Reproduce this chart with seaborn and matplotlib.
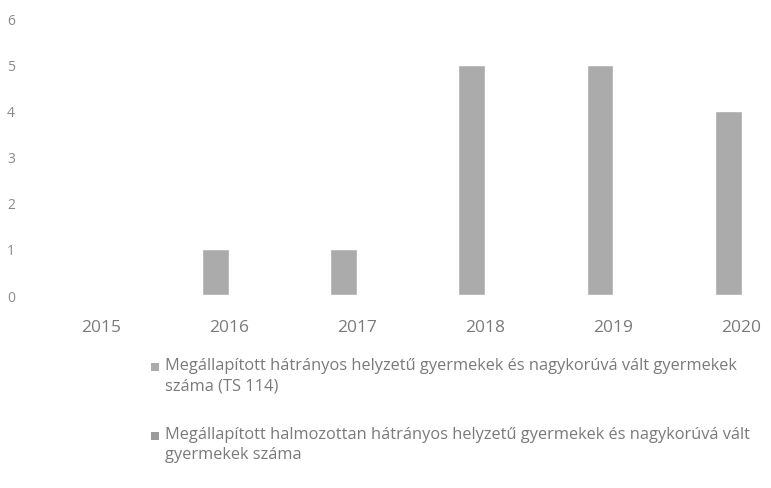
import matplotlib
matplotlib.use("Agg")
import matplotlib.pyplot as plt
import seaborn as sns
import pandas as pd
from matplotlib.patches import Rectangle

years = ["2015", "2016", "2017", "2018", "2019", "2020"]
series_names = [
    "Megállapított hátrányos helyzetű gyermekek és nagykorúvá vált gyermekek\nszáma (TS 114)",
    "Megállapított halmozottan hátrányos helyzetű gyermekek és nagykorúvá vált\ngyermekek száma",
]
values_hh = [0, 1, 1, 5, 5, 4]
values_hhh = [0, 0, 0, 0, 0, 0]
colors = ["#ababab", "#9a9a9a"]

df = pd.DataFrame({
    "year": years * 2,
    "series": [series_names[0]] * len(years) + [series_names[1]] * len(years),
    "value": values_hh + values_hhh,
})

sns.set_theme(style="white")
plt.rcParams["font.family"] = ["Open Sans", "DejaVu Sans"]

W, H = 771, 489
fig = plt.figure(figsize=(W / 100, H / 100), dpi=100)
ax = fig.add_axes([37 / W, (H - 296) / H, (W - 37) / W, 276 / H])

sns.barplot(data=df, x="year", y="value", hue="series", order=years,
            hue_order=series_names, palette=colors, width=0.42,
            legend=False, ax=ax, saturation=1)

ax.set_ylim(0, 6)
ax.set_xlim(-0.5, 5.23)
ax.set_yticks(range(0, 7))
ax.set_xlabel("")
ax.set_ylabel("")
for s in ax.spines.values():
    s.set_visible(False)
ax.tick_params(axis="y", length=0, pad=16, labelsize=10, labelcolor="#8a8a8a")
ax.tick_params(axis="x", length=0, pad=17, labelsize=12.5, labelcolor="#7a7a7a")

# legend drawn manually: marker aligned with the first line of each entry
entry_tops = [358, 427]
for name, col, top in zip(series_names, colors, entry_tops):
    fig.patches.append(Rectangle((151 / W, 1 - (top + 14) / H), 8 / W, 8 / H,
                                 transform=fig.transFigure, facecolor=col,
                                 edgecolor="none"))
    fig.text(165 / W, 1 - top / H, name, ha="left", va="top",
             fontsize=11.8, color="#7a7a7a", linespacing=1.35)

fig.savefig("out.png", dpi=100)
